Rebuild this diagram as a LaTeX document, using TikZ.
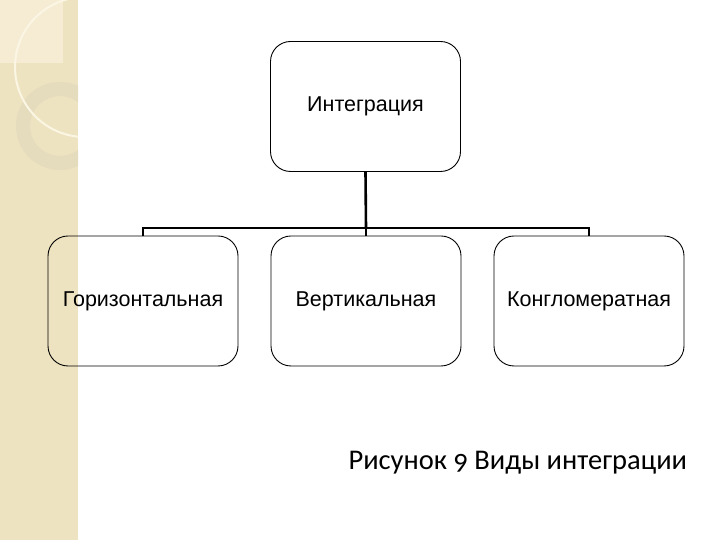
\documentclass[tikz,border=0pt]{standalone}
\usepackage{fontspec}
\setmainfont{Liberation Sans}
\newfontfamily\capfont[Numbers=OldStyle]{Carlito}
\definecolor{stripe}{RGB}{238,227,193}
\definecolor{stripelight}{RGB}{245,236,211}
\definecolor{ringcol}{RGB}{229,219,189}
\definecolor{arccol}{RGB}{251,246,228}
\tikzset{
  kind/.style={draw, rounded corners=20pt, line width=0.9pt, minimum width=190pt,
    minimum height=130pt, inner sep=0pt, font=\fontsize{21.5}{25}\selectfont},
  link/.style={line width=2.6pt}
}

\begin{document}
\begin{tikzpicture}[x=1pt, y=1pt]
                    \useasboundingbox (0,0) rectangle (720,540);
                    % Stripe
                    \begin{scope}
                    \clip (0,0) rectangle (78,540);
                    \fill[stripe] (0,0) rectangle (78,540);
                    \fill[stripelight] (0,477) rectangle (63,540);
                    \fill[ringcol, even odd rule] (60,414) circle (44) (60,414) circle (30);
                    \draw[arccol, line width=2pt] (85,473) circle (70);
                    \end{scope}
                    % Nodes
                    \node[kind] (integ) at (365.5,433.5) {Интеграция};
                    \node[kind] (horiz) at (143,239) {Горизонтальная};
                    \node[kind] (vert) at (366,239) {Вертикальная};
                    \node[kind] (congl) at (589,239) {Конгломератная};
                    \coordinate (bus) at (366,312);
                    \node[anchor=base west, font=\capfont\fontsize{28.5}{33}\selectfont] (caption) at (345,70) {Рисунок 9 Виды интеграции};
                    % Edges
                    \draw[link] (integ.south) -- (bus);
                    \draw[link] (vert.north) -- (bus);
                    \draw[link] (horiz.north) |- (bus);
                    \draw[link] (congl.north) |- (bus);
                \end{tikzpicture}
\end{document}
